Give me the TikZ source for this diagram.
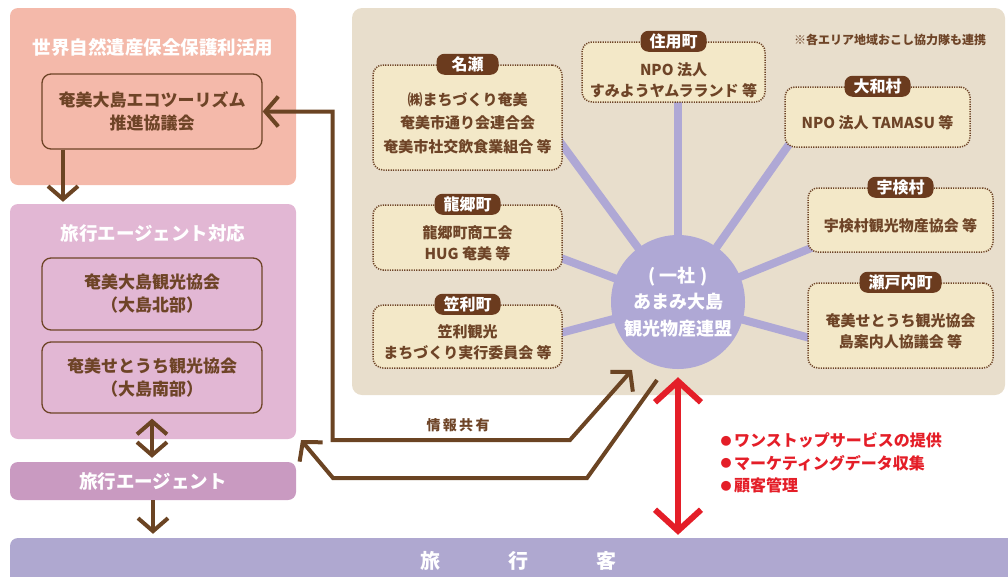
\documentclass[tikz,border=0pt]{standalone}
\usepackage{fontspec}
\setmainfont{Noto Sans CJK JP}
\usetikzlibrary{arrows.meta, backgrounds}

\definecolor{salmon}{HTML}{F4B9AA}
\definecolor{lilac}{HTML}{E2B7D4}
\definecolor{mauve}{HTML}{C99AC1}
\definecolor{guestpurple}{HTML}{AFA8D0}
\definecolor{panelbeige}{HTML}{E8DECC}
\definecolor{townfill}{HTML}{F3E8C8}
\definecolor{tagbrown}{HTML}{6B3B1E}
\definecolor{inkbrown}{HTML}{6E4427}
\definecolor{arrowbrown}{HTML}{6B4423}
\definecolor{hubpurple}{HTML}{AFA8D5}
\definecolor{meritred}{HTML}{E41E28}

\newcommand{\meritdot}{\raisebox{1.5pt}{\fontsize{11}{11}\selectfont ●}\,}
\newcommand{\townpad}{\rule{0pt}{24pt}}

\begin{document}
\begin{tikzpicture}
    [
        x=1pt, y=-1pt,
        every node/.style={text=inkbrown},
        area/.style={rounded corners=8pt, minimum width=286pt, inner sep=0pt},
        areatitle/.style={text=white, font=\fontsize{18.5}{20}\selectfont\bfseries},
        orgbox/.style={
            draw=inkbrown,
            line width=1.3pt,
            rounded corners=9pt,
            minimum width=220pt,
            align=center,
            font=\fontsize{17}{23}\selectfont\bfseries
        },
        townbox/.style={
            draw=inkbrown,
            fill=townfill,
            line width=1.5pt,
            dash pattern=on 1.2pt off 1.2pt,
            rounded corners=10pt,
            align=center,
            font=\fontsize{15}{21}\selectfont\bfseries
        },
        townname/.style={
            fill=tagbrown,
            text=white,
            rounded corners=8pt,
            minimum height=21pt,
            minimum width=62pt,
            inner xsep=9pt,
            inner ysep=0pt,
            font=\fontsize{16}{16}\selectfont\bfseries
        },
        spoke/.style={draw=hubpurple, line width=8pt},
        flow/.style={draw=arrowbrown, line width=4pt, >={Straight Barb[length=13pt,width=30pt]}},
        merit/.style={draw=meritred, line width=6pt, >={Straight Barb[length=21pt,width=46pt]}}
    ]
    \useasboundingbox (0,0) rectangle (1008,576);

    \node[area, fill=salmon, minimum height=177pt] (ecoarea) at (153,96.5) {};
    \node[areatitle] (ecotitle) at (153,47) {世界自然遺産保全保護利活用};
    \node[orgbox, minimum height=75pt] (eco) at (152,111.5) {奄美大島エコツーリズム\\推進協議会};

    \node[area, fill=lilac, minimum height=235pt] (agentarea) at (153,321.5) {};
    \node[areatitle] (agenttitle) at (153,233) {旅行エージェント対応};
    \node[orgbox, minimum height=72pt] (north) at (152,294) {奄美大島観光協会\\（大島北部）};
    \node[orgbox, minimum height=71pt] (south) at (152,377.5) {奄美せとうち観光協会\\（大島南部）};

    \node[area, areatitle, fill=mauve, minimum height=38pt] (agent) at (153,481) {旅行エージェント};
    \node[area, fill=guestpurple, minimum width=1016pt, minimum height=46pt,
        text=white, font=\fontsize{20}{20}\selectfont\bfseries] (guest) at (518,561)
        {旅\hspace{68pt}行\hspace{68pt}客};

    \begin{scope}[on background layer]
        \node[fill=panelbeige, rounded corners=10pt, minimum width=653pt, minimum height=387pt] (panel) at (678.5,201.5) {};
    \end{scope}
    \node[font=\fontsize{12}{12}\selectfont\bfseries] (note) at (890,40) {※各エリア地域おこし協力隊も連携};

    \node[circle, fill=hubpurple, minimum size=134pt, inner sep=0pt, align=center,
        text=white, font=\fontsize{18}{26.5}\selectfont\bfseries] (hub) at (678,302)
        {( 一社 )\\あまみ大島\\観光物産連盟};

    \node[townbox, minimum width=189pt, minimum height=105pt, font=\fontsize{15}{23.5}\selectfont\bfseries] (naze) at (467.5,117.5)
        {\townpad ㈱まちづくり奄美\\奄美市通り会連合会\\奄美市社交飲食業組合 等};
    \node[townname] (nazetag) at (naze.north) {名瀬};
    \node[townbox, minimum width=183pt, minimum height=60pt] (sumiyo) at (673.5,72)
        {\rule{0pt}{30pt}NPO 法人\\すみようヤムラランド 等};
    \node[townname] (sumiyotag) at (sumiyo.north) {住用町};
    \node[townbox, minimum width=185pt, minimum height=60pt] (yamato) at (877.5,117)
        {\townpad NPO 法人 TAMASU 等};
    \node[townname] (yamatotag) at (yamato.north) {大和村};
    \node[townbox, minimum width=185pt, minimum height=64pt] (uken) at (900.5,220)
        {\townpad 宇検村観光物産協会 等};
    \node[townname] (ukentag) at (uken.north) {宇検村};
    \node[townbox, minimum width=185pt, minimum height=85pt] (setouchi) at (900.5,325.5)
        {\townpad 奄美せとうち観光協会\\島案内人協議会 等};
    \node[townname] (setouchitag) at (setouchi.north) {瀬戸内町};
    \node[townbox, minimum width=189pt, minimum height=65pt] (tatsugo) at (467.5,237.5)
        {\townpad 龍郷町商工会\\HUG 奄美 等};
    \node[townname] (tatsugotag) at (tatsugo.north) {龍郷町};
    \node[townbox, minimum width=189pt, minimum height=63pt] (kasari) at (467.5,336.5)
        {\townpad 笠利観光\\まちづくり実行委員会 等};
    \node[townname] (kasaritag) at (kasari.north) {笠利町};

    \begin{scope}[on background layer]
        \draw[spoke] (hub.center) -- ([xshift=-10pt,yshift=-14.5pt]naze.east);
        \draw[spoke] (hub.center) -- ([xshift=4.5pt,yshift=10pt]sumiyo.south);
        \draw[spoke] (hub.center) -- ([xshift=8pt,yshift=8pt]yamato.south west);
        \draw[spoke] (hub.center) -- ([xshift=12pt,yshift=8pt]uken.south west);
        \draw[spoke] (hub.center) -- ([xshift=10pt,yshift=-14.5pt]setouchi.west);
        \draw[spoke] (hub.center) -- ([xshift=-10pt,yshift=-17.5pt]tatsugo.east);
        \draw[spoke] (hub.center) -- ([xshift=-10pt,yshift=1.5pt]kasari.east);
    \end{scope}

    \coordinate (ecofoot) at ([xshift=-89pt]eco.south);
    \coordinate (shareline) at (570,440);
    \coordinate (infoin) at (632,370);
    \coordinate (infoout) at (657,380);
    \coordinate (returnline) at (587,478);
    \coordinate (agentin) at (301,440);

    \draw[flow, ->, shorten >=2pt] (ecofoot) -- (ecofoot |- agentarea.north);
    \draw[flow, <->, shorten <=5pt, shorten >=4pt] (south.south) -- (south.south |- agent.north);
    \draw[flow, ->, shorten >=4pt] (agent.south) -- (agent.south |- guest.north);
    \draw[flow, <->] (eco.east) -- ++(70,0) |- (shareline) -- (infoin);
    \draw[flow, ->] (infoout) -- (returnline) -- ++(-254,0) -- (agentin);
    \node[font=\fontsize{14}{14}\selectfont\bfseries] (share) at (458,425) {情\,報\,共\,有};

    \draw[merit, <->, shorten >=3pt] ([yshift=-8pt]hub.south) -- (hub.south |- guest.north);
    \node[anchor=west, align=left, text=meritred, font=\fontsize{16}{22.5}\selectfont\bfseries] (merits) at (717,463)
        {\meritdot ワンストップサービスの提供\\\meritdot マーケティングデータ収集\\\meritdot 顧客管理};
\end{tikzpicture}
\end{document}
